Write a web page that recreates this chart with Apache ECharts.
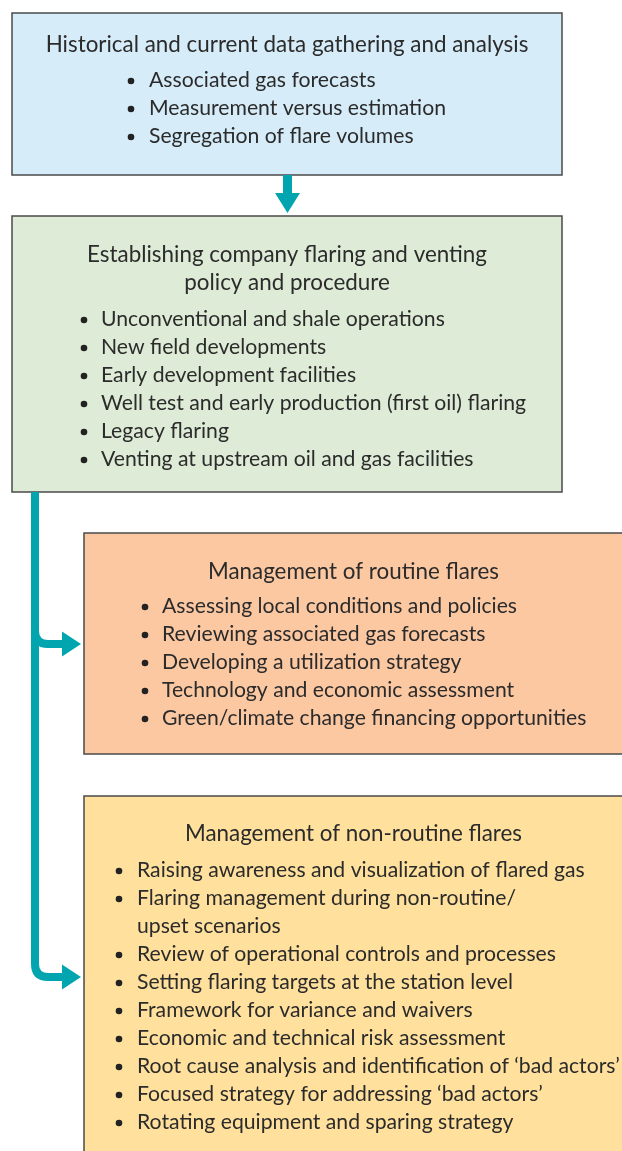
<!DOCTYPE html>
<html>
<head>
<meta charset="utf-8">
<script src="https://cdn.jsdelivr.net/npm/echarts@6/dist/echarts.min.js"></script>
<style>
  html, body { margin: 0; padding: 0; background: #fff; }
  #chart { width: 622px; height: 1151px; }
</style>
</head>
<body>
<div id="chart"></div>
<script>
// box titles and bullet lists (a '\n' marks a wrapped bullet)
const dataTitle = ['Historical and current data gathering and analysis'];
const dataItems = ['Associated gas forecasts', 'Measurement versus estimation', 'Segregation of flare volumes'];

const policyTitle = ['Establishing company flaring and venting', 'policy and procedure'];
const policyItems = [
  'Unconventional and shale operations',
  'New field developments',
  'Early development facilities',
  'Well test and early production (first oil) flaring',
  'Legacy flaring',
  'Venting at upstream oil and gas facilities'
];

const routineTitle = ['Management of routine flares'];
const routineItems = [
  'Assessing local conditions and policies',
  'Reviewing associated gas forecasts',
  'Developing a utilization strategy',
  'Technology and economic assessment',
  'Green/climate change financing opportunities'
];

const nonRoutineTitle = ['Management of non-routine flares'];
const nonRoutineItems = [
  'Raising awareness and visualization of flared gas',
  'Flaring management during non-routine/\nupset scenarios',
  'Review of operational controls and processes',
  'Setting flaring targets at the station level',
  'Framework for variance and waivers',
  'Economic and technical risk assessment',
  'Root cause analysis and identification of \u2018bad actors\u2019',
  'Focused strategy for addressing \u2018bad actors\u2019',
  'Rotating equipment and sparing strategy'
];

const FONT = 'Lato, "Noto Sans", sans-serif';
const TEXT = '#2b2b2b';
const TEAL = '#00A5B0';
const LINE_H = 28;

function box(x, y, w, h, fill, title, items, titleY, bulletX, textX, firstY) {
  const els = [{
    type: 'rect',
    shape: { x: x, y: y, width: w, height: h },
    style: { fill: fill, stroke: '#4a4a4a', lineWidth: 1.5 }
  }];
  const cx = x + w / 2;
  title.forEach((t, i) => {
    els.push({
      type: 'text', x: cx, y: titleY + i * LINE_H,
      style: { text: t, fill: TEXT, font: '22.4px ' + FONT, textAlign: 'center', textVerticalAlign: 'middle' }
    });
  });
  let row = 0;
  items.forEach(item => {
    const lines = item.split('\n');
    const yy = firstY + row * LINE_H;
    els.push({
      type: 'circle', shape: { cx: bulletX, cy: yy + 1, r: 3.3 },
      style: { fill: '#222' }
    });
    lines.forEach((ln, j) => {
      els.push({
        type: 'text', x: textX, y: yy + j * LINE_H,
        style: { text: ln, fill: TEXT, font: '21.2px ' + FONT, textAlign: 'left', textVerticalAlign: 'middle' }
      });
    });
    row += lines.length;
  });
  return els;
}

function branch(y) {
  // rounded corner off the main line, then a short shaft and head
  return [
    { type: 'bezierCurve', shape: { x1: 35, y1: y - 13, cpx1: 35, cpy1: y, x2: 48, y2: y },
      style: { stroke: TEAL, lineWidth: 8, fill: null } },
    { type: 'line', shape: { x1: 47, y1: y, x2: 64, y2: y },
      style: { stroke: TEAL, lineWidth: 8 } },
    { type: 'polygon', shape: { points: [[62, y - 12.5], [81, y], [62, y + 12.5]] },
      style: { fill: TEAL } }
  ];
}

let graphic = [];
graphic = graphic.concat(box(12, 13, 550, 162, '#D6ECF9', dataTitle, dataItems, 45, 131, 149, 80));
graphic = graphic.concat(box(12, 216, 550, 276, '#DEEBD6', policyTitle, policyItems, 255, 84, 101, 319));
graphic = graphic.concat(box(84, 533, 539, 221, '#FCC8A2', routineTitle, routineItems, 572, 145, 162, 606));
graphic = graphic.concat(box(84, 796, 539, 370, '#FFE09C', nonRoutineTitle, nonRoutineItems, 834, 119, 137, 870));

// down arrow between first two boxes
graphic.push({ type: 'rect', shape: { x: 283, y: 175, width: 9, height: 20 }, style: { fill: TEAL } });
graphic.push({ type: 'polygon', shape: { points: [[275, 193], [300, 193], [287.5, 213]] }, style: { fill: TEAL } });

// main vertical connector
graphic.push({ type: 'line', shape: { x1: 35, y1: 492, x2: 35, y2: 965 }, style: { stroke: TEAL, lineWidth: 8 } });
graphic = graphic.concat(branch(644));
graphic = graphic.concat(branch(977));

const chart = echarts.init(document.getElementById('chart'));
chart.setOption({
  animation: false,
  graphic: graphic
});
</script>
</body>
</html>
